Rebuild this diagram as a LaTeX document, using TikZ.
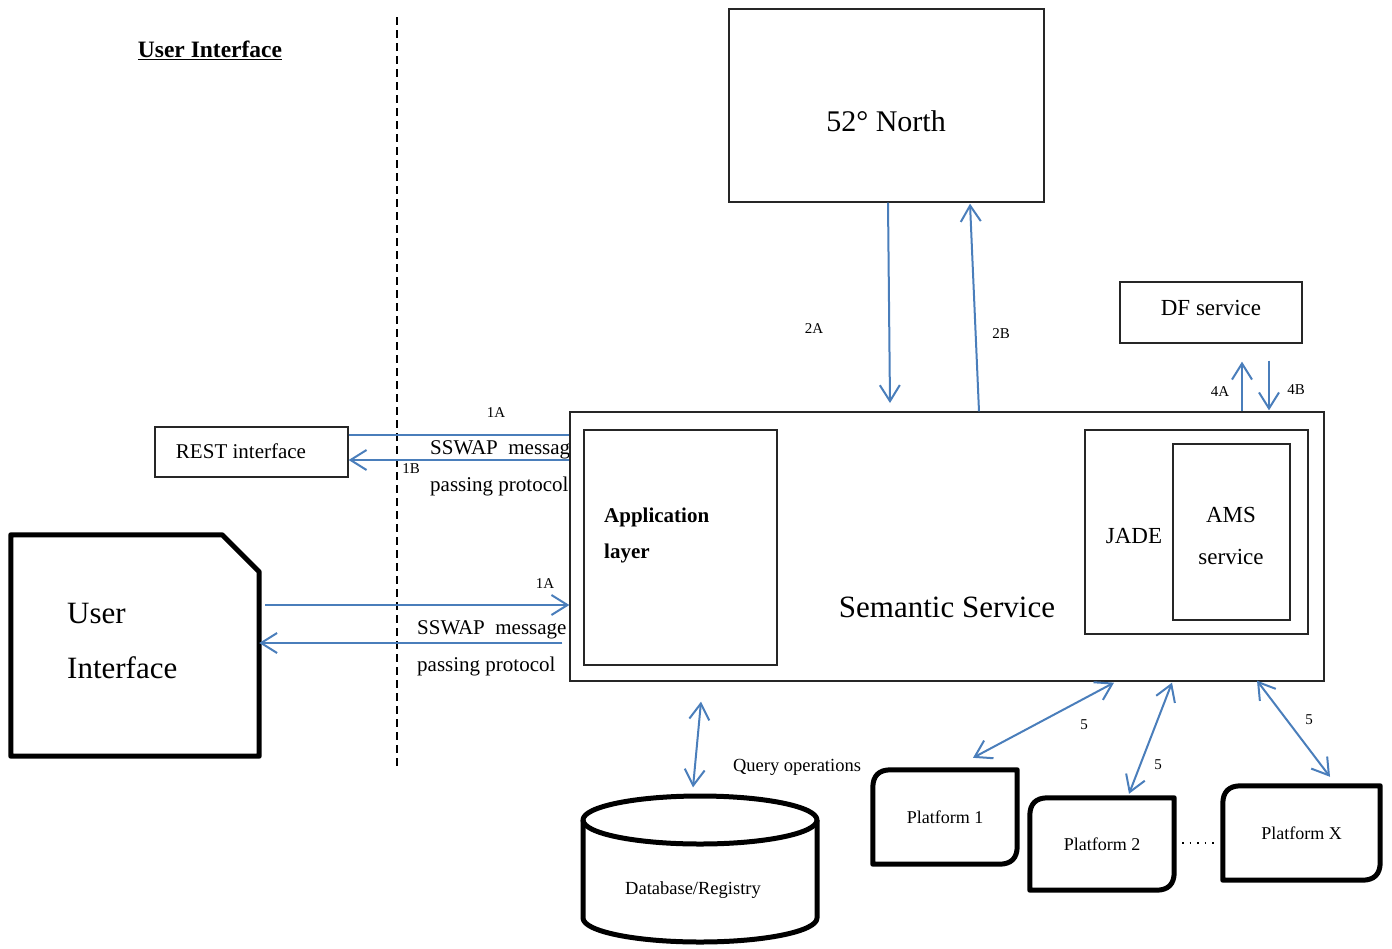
\documentclass[tikz,border=0pt]{standalone}
\usepackage{fontspec}
\setmainfont{Liberation Serif}
\usetikzlibrary{arrows.meta,calc}
\definecolor{arrowblue}{HTML}{4A7EBB}
\begin{document}
\begin{tikzpicture}[x=1pt,y=-1pt,
  thinbox/.style={draw=black!85, line width=1.3pt, fill=white, inner sep=0pt},
  plainbox/.style={draw=none, inner sep=0pt},
  thickline/.style={draw=black, line width=5pt, line join=round},
  blueline/.style={draw=arrowblue, line width=2pt},
  lbl/.style={inner sep=0pt, font=\fontsize{15}{15}\selectfont},
  txt/.style={inner sep=0pt},
  >={Straight Barb[length=16pt,width=20pt]}
]
\useasboundingbox (0,0) rectangle (1392,948);

% title and separator
\node[txt, font=\fontsize{23.5}{23.5}\selectfont\bfseries] (title) at (210,50) {\underline{User Interface}};
\draw[line width=1.8pt, dash pattern=on 8pt off 5pt] (397,17) -- (397,768);

% texts partly hidden by the semantic box
\node[txt, anchor=west, font=\fontsize{21}{21}\selectfont] (ss1) at (430,450) {SSWAP\ \ message};
\node[txt, anchor=west, font=\fontsize{21}{21}\selectfont] (pp1) at (430,486) {passing protocol};
\node[txt, anchor=west, font=\fontsize{21}{21}\selectfont] (ss2) at (417,630) {SSWAP\ \ message};
\node[txt, anchor=west, font=\fontsize{21}{21}\selectfont] (pp2) at (417,666) {passing protocol};

% boxes
\node[thinbox, minimum width=315pt, minimum height=193pt] (north) at (886.5,105.5) {};
\node[txt, font=\fontsize{30}{30}\selectfont] (northt) at (886,121) {52° North};

\node[thinbox, minimum width=182pt, minimum height=61pt] (df) at (1211,312.5) {};
\node[txt, font=\fontsize{23}{23}\selectfont] (dft) at (1211,308) {DF service};

\node[thinbox, minimum width=193pt, minimum height=50pt] (rest) at (251.5,452) {};
\node[txt, font=\fontsize{21}{21}\selectfont] (restt) at (241,451) {REST interface};

\node[thinbox, minimum width=754pt, minimum height=269pt] (sem) at (947,546.5) {};
\node[txt, font=\fontsize{31}{31}\selectfont] (semt) at (947,607) {Semantic Service};

\node[thinbox, minimum width=193pt, minimum height=235pt] (app) at (680.5,547.5) {};
\node[txt, anchor=west, font=\fontsize{21}{21}\selectfont\bfseries] (appt1) at (604,517) {Application};
\node[txt, anchor=west, font=\fontsize{21}{21}\selectfont\bfseries] (appt2) at (604,553) {layer};

\node[thinbox, minimum width=223pt, minimum height=204pt] (jade) at (1196.5,532) {};
\node[txt, font=\fontsize{23}{23}\selectfont] (jadet) at (1134,536) {JADE};
\node[thinbox, minimum width=117pt, minimum height=176pt] (ams) at (1231.5,532) {};
\node[txt, font=\fontsize{23}{23}\selectfont] (amst1) at (1231,515) {AMS};
\node[txt, font=\fontsize{23}{23}\selectfont] (amst2) at (1231,557) {service};

% user interface box
\node[plainbox, minimum width=248pt, minimum height=221pt] (ui) at (135,645.5) {};
\draw[thickline] (ui.south west) -- (ui.north west) -- ($(ui.north east)+(-37,0)$)
  -- ($(ui.north east)+(0,37)$) -- (ui.south east) -- cycle;
\node[txt, anchor=west, font=\fontsize{31}{31}\selectfont] (uit1) at (67,613) {User};
\node[txt, anchor=west, font=\fontsize{31}{31}\selectfont] (uit2) at (67,668) {Interface};

% platforms
\newcommand\platoutline[1]{%
  \draw[thickline] (#1.south west) -- ($(#1.north west)+(0,18)$) .. controls ($(#1.north west)+(0,6)$) and ($(#1.north west)+(6,0)$) .. ($(#1.north west)+(18,0)$)
   -- (#1.north east) -- ($(#1.south east)+(0,-18)$) .. controls ($(#1.south east)+(0,-6)$) and ($(#1.south east)+(-6,0)$) .. ($(#1.south east)+(-18,0)$) -- cycle;}
\node[plainbox, minimum width=144pt, minimum height=94pt, font=\fontsize{18}{18}\selectfont] (p1) at (945,817) {Platform 1};
\platoutline{p1}
\node[plainbox, minimum width=144pt, minimum height=92pt, font=\fontsize{18}{18}\selectfont] (p2) at (1102,844) {\raisebox{-5pt}{Platform 2}};
\platoutline{p2}
\node[plainbox, minimum width=157pt, minimum height=94pt, font=\fontsize{18}{18}\selectfont] (px) at (1301.5,833) {\raisebox{-3pt}{Platform X}};
\platoutline{px}
\draw[line width=1.3pt, dash pattern=on 1.5pt off 6pt] ($(p2.east)+(8,-1)$) -- ($(px.west |- p2.east)+(-4,-1)$);

% database
\node[txt, font=\fontsize{18.5}{18.5}\selectfont] (db) at (693,890) {Database/Registry};
\draw[thickline] (700,820) ellipse [x radius=117, y radius=24];
\draw[thickline] (583,820) -- (583,918) arc[start angle=180, end angle=0, x radius=117, y radius=24] -- (817,820);

% REST arrows
\draw[blueline] (rest.east |- 0,435) -- (sem.west |- 0,435);
\draw[blueline,->] (sem.west |- 0,460) -- (rest.east |- 0,460);
\node[lbl] (l1a) at (496,413) {1A};
\node[lbl] (l1b) at (411,469) {1B};

% UI arrows
\draw[blueline,->] ($(ui.east |- 0,605)+(6,0)$) -- (sem.west |- 0,605);
\draw[blueline,->] ($(sem.west |- 0,643)+(-7,0)$) -- (ui.east |- 0,643);
\node[lbl] (l1a2) at (545,584) {1A};

% 52 North arrows
\draw[blueline,->] (north.south -| 888,0) -- (890,403);
\draw[blueline,->] (sem.north -| 979,0) -- ($(north.south -| 970,0)+(0,1)$);
\node[lbl] (l2a) at (814,329) {2A};
\node[lbl] (l2b) at (1001,334) {2B};

% DF arrows
\draw[blueline,->] (sem.north -| 1242,0) -- ($(df.south -| 1242,0)+(0,18)$);
\draw[blueline,->] ($(df.south -| 1269,0)+(0,17)$) -- ($(sem.north -| 1269,0)+(0,-1)$);
\node[lbl] (l4a) at (1220,392) {4A};
\node[lbl] (l4b) at (1296,390) {4B};

% query
\draw[blueline,<->] ($(sem.south -| 701,0)+(0,20)$) -- ($(db.north -| 693,0)+(0,-94)$);
\node[txt, font=\fontsize{18.5}{18.5}\selectfont] (qo) at (797,767) {Query operations};

% platform arrows
\draw[blueline,<->] ($(sem.south -| 1114,0)+(0,1)$) -- ($(p1.north -| 973,0)+(0,-12)$);
\draw[blueline,<->] ($(sem.south -| 1172,0)+(0,1)$) -- ($(p2.north -| 1129,0)+(0,-4)$);
\draw[blueline,<->] ($(sem.south -| 1257,0)+(0,-1)$) -- ($(px.north -| 1330,0)+(0,-9)$);
\node[lbl] (l5a) at (1084,725) {5};
\node[lbl] (l5b) at (1158,765) {5};
\node[lbl] (l5c) at (1309,720) {5};
\end{tikzpicture}
\end{document}
